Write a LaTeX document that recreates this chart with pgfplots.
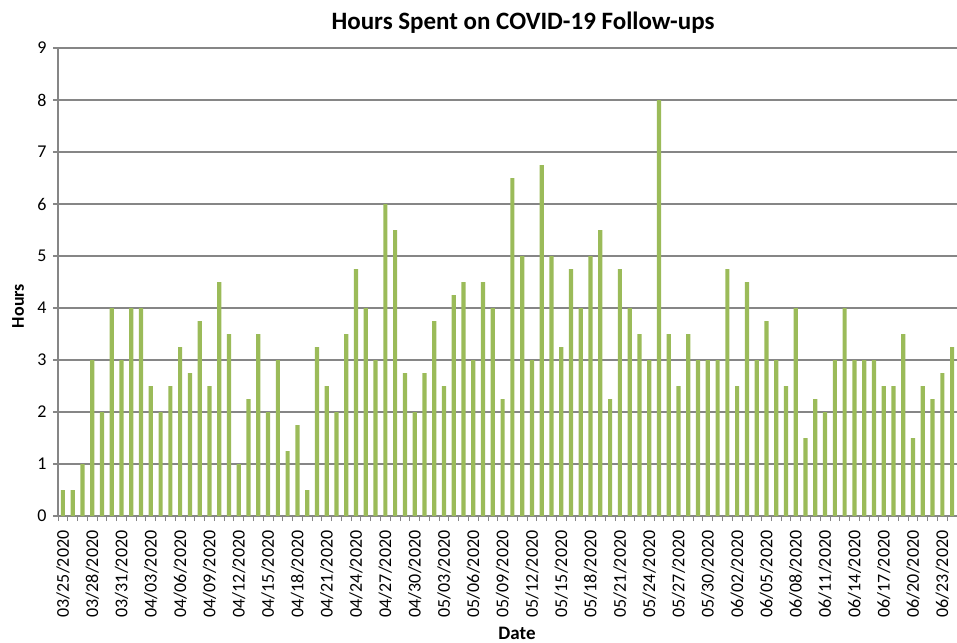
\documentclass[border=0pt]{standalone}
\usepackage{pgfplots}
\pgfplotsset{compat=1.18}
\usepackage{fontspec}
\setmainfont{Carlito}
\definecolor{barg}{HTML}{9BBB59}
\definecolor{gridg}{HTML}{868686}
\begin{document}
\begin{tikzpicture}
\path[use as bounding box] (-58pt,-126pt) rectangle (899pt,516pt);
\begin{axis}[
  at={(0pt,0pt)}, anchor=south west,
  scale only axis, width=899pt, height=468pt,
  xmin=-0.5, xmax=91.5, ymin=0, ymax=9,
  axis lines*=left,
  axis line style={draw=gridg, line width=1.2pt},
  ytick={0,1,...,9},
  xtick={0,3,...,90},
  xticklabels={03/25/2020,03/28/2020,03/31/2020,04/03/2020,04/06/2020,04/09/2020,04/12/2020,04/15/2020,04/18/2020,04/21/2020,04/24/2020,04/27/2020,04/30/2020,05/03/2020,05/06/2020,05/09/2020,05/12/2020,05/15/2020,05/18/2020,05/21/2020,05/24/2020,05/27/2020,05/30/2020,06/02/2020,06/05/2020,06/08/2020,06/11/2020,06/14/2020,06/17/2020,06/20/2020,06/23/2020},
  minor xtick={-0.5,0.5,...,91.5},
  major x tick style={draw=none},
  minor x tick style={draw=gridg, line width=0.9pt},
  y tick style={draw=gridg, line width=1.1pt},
  tick align=outside,
  major tick length=5pt, minor tick length=5pt,
  ymajorgrids,
  grid style={draw=gridg, line width=1.2pt},
  /pgf/number format/assume math mode=true,
  tick label style={font=\fontsize{18}{20}\selectfont, text=black},
  xticklabel style={yshift=-6pt, rotate=90, anchor=east},
  yticklabel style={xshift=-3pt, anchor=east},
  clip=false,
]
\addplot[ybar, bar width=4.2pt, fill=barg, draw=none] coordinates {
(0,0.5) (1,0.5) (2,1) (3,3) (4,2) (5,4) (6,3) (7,4) (8,4) (9,2.5)
(10,2) (11,2.5) (12,3.25) (13,2.75) (14,3.75) (15,2.5) (16,4.5) (17,3.5) (18,1) (19,2.25)
(20,3.5) (21,2) (22,3) (23,1.25) (24,1.75) (25,0.5) (26,3.25) (27,2.5) (28,2) (29,3.5)
(30,4.75) (31,4) (32,3) (33,6) (34,5.5) (35,2.75) (36,2) (37,2.75) (38,3.75) (39,2.5)
(40,4.25) (41,4.5) (42,3) (43,4.5) (44,4) (45,2.25) (46,6.5) (47,5) (48,3) (49,6.75)
(50,5) (51,3.25) (52,4.75) (53,4) (54,5) (55,5.5) (56,2.25) (57,4.75) (58,4) (59,3.5)
(60,3) (61,8) (62,3.5) (63,2.5) (64,3.5) (65,3) (66,3) (67,3) (68,4.75) (69,2.5)
(70,4.5) (71,3) (72,3.75) (73,3) (74,2.5) (75,4) (76,1.5) (77,2.25) (78,2) (79,3)
(80,4) (81,3) (82,3) (83,3) (84,2.5) (85,2.5) (86,3.5) (87,1.5) (88,2.5) (89,2.25)
(90,2.75) (91,3.25)
};
\end{axis}
\node[font=\fontsize{25}{28}\selectfont\bfseries] at (465pt,493pt) {Hours Spent on COVID-19 Follow-ups};
\node[font=\fontsize{19}{21}\selectfont\bfseries] at (459pt,-117pt) {Date};
\node[font=\fontsize{18}{20}\selectfont\bfseries, rotate=90] at (-40pt,210pt) {Hours};
\end{tikzpicture}
\end{document}
